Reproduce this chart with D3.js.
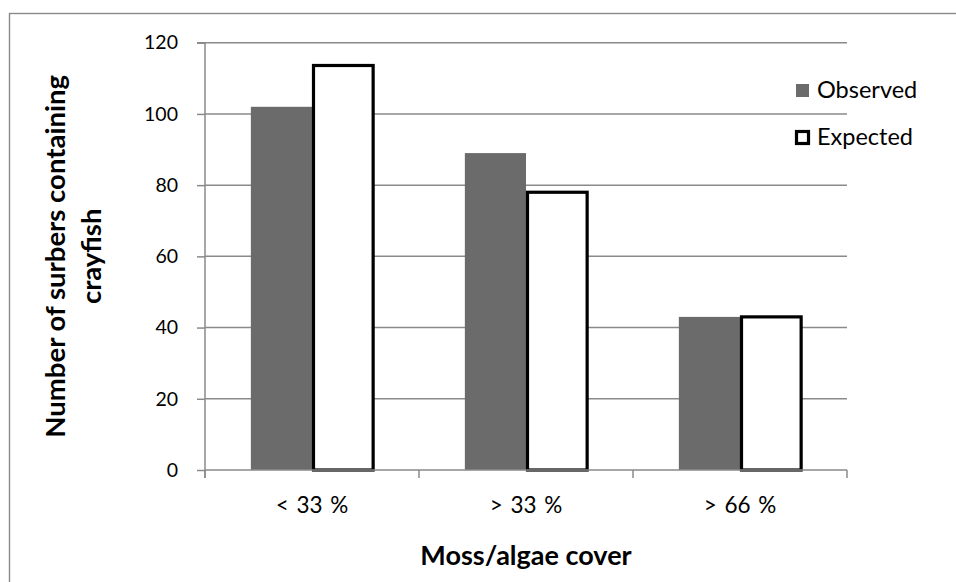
<!DOCTYPE html>
<html>
<head>
<meta charset="utf-8">
<script src="https://cdn.jsdelivr.net/npm/d3@7"></script>
<style>
  body { margin: 0; background: #fff; }
  text { font-family: Lato, "Noto Sans", sans-serif; fill: #000; }
</style>
</head>
<body>
<div id="chart"></div>
<script>
// values
const categories = ["< 33 %", "> 33 %", "> 66 %"];
const seriesNames = ["Observed", "Expected"];
const observed = [102, 89, 43];
const expected = [113.6, 78, 43];
const yTicks = [0, 20, 40, 60, 80, 100, 120];
const yTitleLines = ["Number of surbers containing", "crayfish"];
const xTitle = "Moss/algae cover";

const width = 956, height = 582;
const plot = {left: 205, right: 847, top: 42.7, bottom: 470};
const grey = "#8a8a8a";

const svg = d3.select("#chart")
  .append("svg")
  .attr("width", width)
  .attr("height", height);

// outer chart border (only left/top are inside the frame)
svg.append("rect")
  .attr("x", 9.5).attr("y", 13.5)
  .attr("width", 1000).attr("height", 1000)
  .attr("fill", "none")
  .attr("stroke", grey)
  .attr("stroke-width", 1.4);

const x = d3.scaleBand()
  .domain(categories)
  .range([plot.left, plot.right]);

// gap width 150% -> outer padding 0.75 step on each side
const xSub = d3.scaleBand()
  .domain(seriesNames)
  .range([0, x.bandwidth()])
  .paddingOuter(0.75);

const y = d3.scaleLinear()
  .domain([0, 120])
  .range([plot.bottom, plot.top]);

// gridlines
svg.append("g")
  .selectAll("line")
  .data(yTicks.filter(d => d > 0))
  .join("line")
    .attr("x1", plot.left).attr("x2", plot.right)
    .attr("y1", d => y(d)).attr("y2", d => y(d))
    .attr("stroke", grey)
    .attr("stroke-width", 1.5);

// bars
const rows = categories.map((c, i) => ({cat: c, Observed: observed[i], Expected: expected[i]}));

svg.append("g")
  .selectAll("rect")
  .data(rows)
  .join("rect")
    .attr("x", d => x(d.cat) + xSub("Observed"))
    .attr("y", d => y(d.Observed))
    .attr("width", xSub.bandwidth())
    .attr("height", d => y(0) - y(d.Observed))
    .attr("fill", "#6b6b6b");

svg.append("g")
  .selectAll("rect")
  .data(rows)
  .join("rect")
    .attr("x", d => x(d.cat) + xSub("Expected") + 1.5)
    .attr("y", d => y(d.Expected))
    .attr("width", xSub.bandwidth() - 1.5)
    .attr("height", d => y(0) - y(d.Expected))
    .attr("fill", "#fff")
    .attr("stroke", "#000")
    .attr("stroke-width", 3.2);

// y axis
const yAxis = svg.append("g")
  .attr("transform", `translate(${plot.left},0)`)
  .call(d3.axisLeft(y).tickValues(yTicks).tickSize(8).tickPadding(19));
yAxis.select(".domain").attr("stroke", grey).attr("stroke-width", 1.5)
  .attr("d", `M-8,${plot.top}H0V${plot.bottom + 8}`);
yAxis.selectAll(".tick line").attr("stroke", grey).attr("stroke-width", 1.5);
yAxis.selectAll(".tick text")
  .style("font-size", "19.5px")
  .style("font-family", "Lato, sans-serif")
  .attr("fill", "#000");

// x axis baseline + boundary ticks
svg.append("line")
  .attr("x1", plot.left).attr("x2", plot.right)
  .attr("y1", y(0)).attr("y2", y(0))
  .attr("stroke", grey).attr("stroke-width", 1.5);

svg.append("g")
  .selectAll("line")
  .data(categories.map(c => x(c)).concat([plot.right]))
  .join("line")
    .attr("x1", d => d).attr("x2", d => d)
    .attr("y1", y(0)).attr("y2", y(0) + 8)
    .attr("stroke", grey).attr("stroke-width", 1.5);

svg.append("g")
  .selectAll("text")
  .data(categories)
  .join("text")
    .attr("x", d => x(d) + x.bandwidth() / 2)
    .attr("y", 513)
    .attr("text-anchor", "middle")
    .style("font-size", "22.5px")
    .style("word-spacing", "2px")
    .text(d => d);

// axis titles
svg.append("text")
  .attr("x", (plot.left + plot.right) / 2)
  .attr("y", 565)
  .attr("text-anchor", "middle")
  .style("font-size", "27px")
  .style("font-weight", "bold")
  .text(xTitle);

svg.append("g")
  .selectAll("text")
  .data(yTitleLines)
  .join("text")
    .attr("transform", (d, i) => `translate(${65 + i * 36},${(plot.top + plot.bottom) / 2}) rotate(-90)`)
    .attr("text-anchor", "middle")
    .style("font-size", "27.5px")
    .style("font-weight", "bold")
    .text(d => d);

// legend
const legend = svg.append("g")
  .selectAll("g")
  .data(seriesNames)
  .join("g")
    .attr("transform", (d, i) => `translate(796,${84 + i * 47})`);

legend.append("rect")
  .attr("x", d => d === "Expected" ? 0.5 : 0)
  .attr("y", d => d === "Expected" ? 0.5 : 0)
  .attr("width", d => d === "Expected" ? 12 : 13)
  .attr("height", d => d === "Expected" ? 12 : 13)
  .attr("fill", d => d === "Expected" ? "#fff" : "#6b6b6b")
  .attr("stroke", d => d === "Expected" ? "#000" : "none")
  .attr("stroke-width", 3.2);

legend.append("text")
  .attr("x", 21)
  .attr("y", 14)
  .style("font-size", "23.5px")
  .text(d => d);
</script>
</body>
</html>
